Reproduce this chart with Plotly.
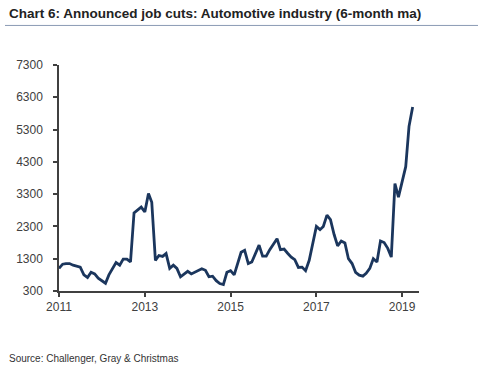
import plotly.graph_objects as go
import pandas as pd

start_month = "2011-01-01"
job_cuts = [
    1000, 1130, 1150, 1150, 1100, 1060, 1040, 800, 720, 880, 830, 700,
    610, 540, 800, 1000, 1180, 1100, 1290, 1290, 1200, 2720, 2800, 2900,
    2750, 3320, 3050, 1250, 1400, 1370, 1460, 1000, 1100, 1000, 740, 820,
    910, 830, 880, 950, 990, 940, 740, 760, 620, 530, 500, 880,
    930, 800, 1150, 1500, 1560, 1150, 1200, 1450, 1720, 1380, 1380, 1580,
    1750, 1920, 1580, 1600, 1470, 1350, 1270, 1030, 1040, 930, 1250, 1800,
    2300, 2200, 2300, 2650, 2510, 2050, 1700, 1850, 1790, 1300, 1150, 880,
    790, 760, 850, 1000, 1300, 1200, 1850, 1800, 1620, 1350, 3630, 3210,
    3730, 4150, 5400, 6000,
]
dates = pd.date_range(start_month, periods=len(job_cuts), freq="MS")

y_ticks = [300, 1300, 2300, 3300, 4300, 5300, 6300, 7300]
x_ticks = ["2011-01-01", "2013-01-01", "2015-01-01", "2017-01-01", "2019-01-01"]
x_tick_labels = ["2011", "2013", "2015", "2017", "2019"]

title_text = "Chart 6: Announced job cuts: Automotive industry (6-month ma)"
source_text = "Source: Challenger, Gray & Christmas"

fig = go.Figure()
fig.add_trace(go.Scatter(
    x=dates, y=job_cuts, mode="lines",
    line=dict(color="#1b365d", width=2.8),
    hoverinfo="skip",
))

fig.update_layout(
    width=486, height=374,
    margin=dict(l=59, r=67, t=65, b=83),
    paper_bgcolor="white", plot_bgcolor="white",
    showlegend=False,
    font=dict(family="Liberation Sans, Arial, sans-serif", color="#333333", size=12),
    xaxis=dict(
        range=["2011-01-01", "2019-05-25"],
        tickvals=x_ticks, ticktext=x_tick_labels,
        showgrid=False, zeroline=False,
        showline=True, linecolor="#404040", linewidth=1.5,
        ticks="outside", ticklen=4, tickcolor="#404040", tickwidth=1.5,
        tickfont=dict(size=12, color="#404040"),
    ),
    yaxis=dict(
        range=[300, 7300],
        tickvals=y_ticks,
        showgrid=False, zeroline=False,
        showline=True, linecolor="#404040", linewidth=1.5,
        ticks="outside", ticklen=4, tickcolor="#404040", tickwidth=1.5,
        tickfont=dict(size=12, color="#404040"),
        ticklabelstandoff=8,
    ),
    shapes=[dict(
        type="line", xref="paper", yref="paper",
        x0=-54/360, x1=(478-59)/360,
        y0=1 + (65-25.5)/225.7, y1=1 + (65-25.5)/225.7,
        line=dict(color="#8b9bb4", width=1),
    )],
    annotations=[
        dict(text="<b>" + title_text + "</b>", xref="paper", yref="paper",
             x=-52/360, y=1 + (65-13.5)/225.7, xanchor="left", yanchor="middle",
             showarrow=False,
             font=dict(size=13.5, color="#222222", family="Liberation Sans, Arial, sans-serif")),
        dict(text=source_text, xref="paper", yref="paper",
             x=-52/360, y=-(358-290.7)/225.7, xanchor="left", yanchor="middle",
             showarrow=False,
             font=dict(size=10, color="#333333")),
    ],
)

fig.write_html("out.html", config={"displayModeBar": False},
               post_script="document.body.style.margin='0';")
